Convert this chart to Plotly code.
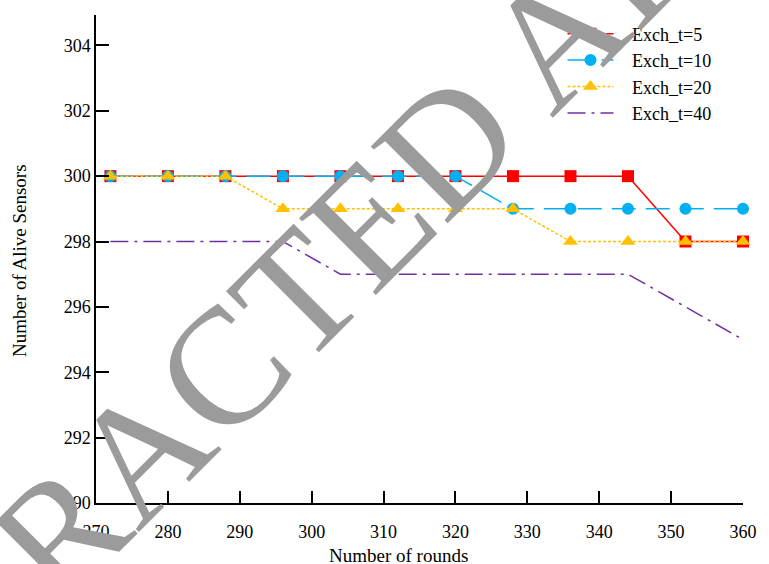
import plotly.graph_objects as go

rounds = [272, 280, 288, 296, 304, 312, 320, 328, 336, 344, 352, 360]
exch_t5 = [300, 300, 300, 300, 300, 300, 300, 300, 300, 300, 298, 298]
exch_t10 = [300, 300, 300, 300, 300, 300, 300, 299, 299, 299, 299, 299]
exch_t20 = [300, 300, 300, 299, 299, 299, 299, 299, 298, 298, 298, 298]
exch_t40 = [298, 298, 298, 298, 297, 297, 297, 297, 297, 297, 296, 295]

x_ticks = [270, 280, 290, 300, 310, 320, 330, 340, 350, 360]
y_ticks = [290, 292, 294, 296, 298, 300, 302, 304]

FONT = "Liberation Serif, Times New Roman, serif"
PAD = "\u00a0\u00a0\u00a0"

fig = go.Figure()
fig.add_trace(go.Scatter(
    x=rounds, y=exch_t5, name=PAD + "Exch_t=5", mode="lines+markers",
    line=dict(color="#FF0000", width=1.5),
    marker=dict(symbol="square", size=12, color="#FF0000"),
    cliponaxis=False))
fig.add_trace(go.Scatter(
    x=rounds, y=exch_t10, name=PAD + "Exch_t=10", mode="lines+markers",
    line=dict(color="#00B0F0", width=1.5, dash="24px,10px"),
    marker=dict(symbol="circle", size=12, color="#00B0F0"),
    cliponaxis=False))
fig.add_trace(go.Scatter(
    x=rounds, y=exch_t20, name=PAD + "Exch_t=20", mode="lines+markers",
    line=dict(color="#FFC000", width=1.5, dash="3px,2px"),
    marker=dict(symbol="triangle-up", size=13, color="#FFC000"),
    cliponaxis=False))
fig.add_trace(go.Scatter(
    x=rounds, y=exch_t40, name=PAD + "Exch_t=40", mode="lines",
    line=dict(color="#7030A0", width=1.5, dash="18px,6px,3px,6px"),
    cliponaxis=False))

fig.update_layout(
    width=769, height=564,
    margin=dict(l=96, r=17, t=15, b=61),
    plot_bgcolor="white", paper_bgcolor="white",
    font=dict(family=FONT, size=18, color="black"),
    showlegend=True,
    legend=dict(x=(574 - 96 - 5) / 656, y=0.999, xanchor="left", yanchor="top",
                bgcolor="rgba(0,0,0,0)", font=dict(family=FONT, size=18, color="black"),
                itemwidth=46, tracegroupgap=0),
    xaxis=dict(range=[270, 360], tickvals=x_ticks, ticks="inside", ticklen=12,
               tickwidth=1.5, tickcolor="black", showline=True, linecolor="black",
               linewidth=1.5, showgrid=False, zeroline=False, ticklabelstandoff=12,
               tickfont=dict(family=FONT, size=18, color="black")),
    yaxis=dict(range=[290, 304.93], tickvals=y_ticks, ticks="inside", ticklen=13,
               tickwidth=1.5, tickcolor="black", showline=True, linecolor="black",
               linewidth=1.5, showgrid=False, zeroline=False,
               tickfont=dict(family=FONT, size=18, color="black")),
    annotations=[
        dict(text="Number of rounds", xref="paper", yref="paper",
             x=(403 - 96) / 656, y=(503 - 555) / 488, showarrow=False,
             xanchor="center", yanchor="middle",
             font=dict(family=FONT, size=19, color="black")),
        dict(text="Number of Alive Sensors", xref="paper", yref="paper",
             x=(18 - 96) / 656, y=(503 - 261) / 488, showarrow=False,
             textangle=-90, xanchor="center", yanchor="middle",
             font=dict(family=FONT, size=19, color="black")),
        dict(text="RETRACTED ARTICLE", xref="paper", yref="paper",
             x=(404 - 96) / 656, y=(503 - 192) / 488, showarrow=False,
             textangle=-45, xanchor="center", yanchor="middle",
             font=dict(family=FONT, size=166, color="#9b9b9b")),
    ],
)

fig.write_html("out.html")
